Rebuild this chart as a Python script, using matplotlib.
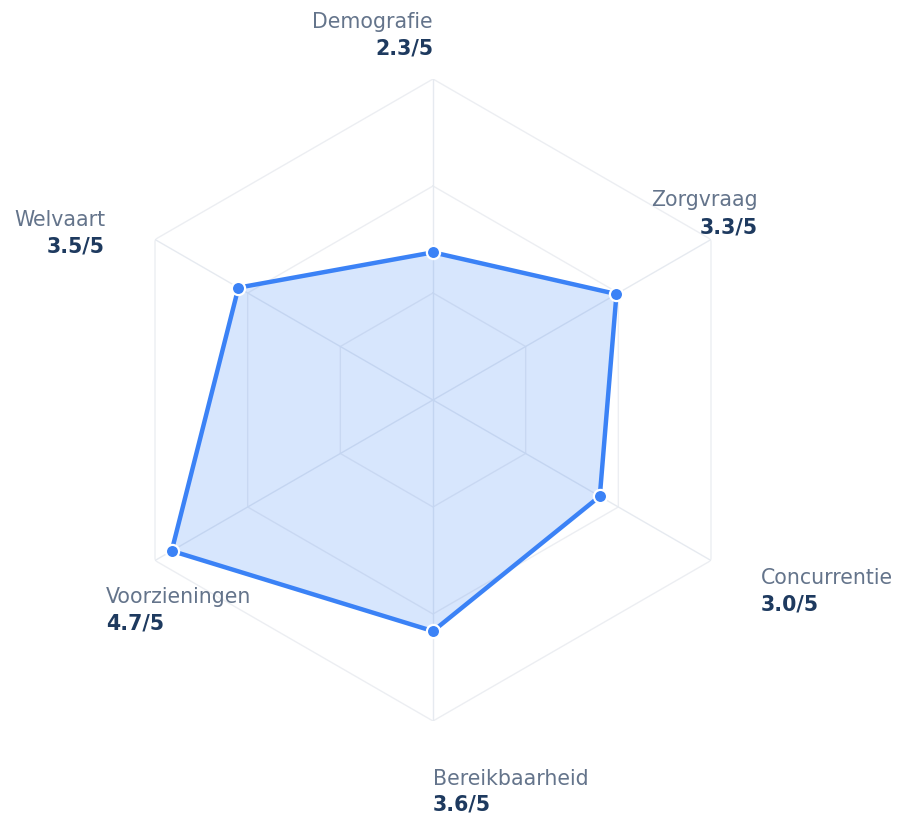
import numpy as np
import matplotlib
matplotlib.use("Agg")
import matplotlib.pyplot as plt

categories = ["Demografie", "Zorgvraag", "Concurrentie", "Bereikbaarheid", "Voorzieningen", "Welvaart"]
scores = [2.3, 3.3, 3.0, 3.6, 4.7, 3.5]
max_score = 5
grid_levels = [5 / 3, 10 / 3, 5]

# label layout (pixel offsets from the outer vertex): dx, cat baseline dy, value baseline dy, ha
label_layout = [
    (0, 51, 25, "right"),
    (47, 33, 6, "right"),
    (50, -23, -50, "left"),
    (0, -64, -90, "left"),
    (-49, -42, -69, "left"),
    (-50, 13, -13, "right"),
]

W, H, DPI = 897, 814, 100
fig = plt.figure(figsize=(W / DPI, H / DPI), dpi=DPI)
cx, cy, R = 433, 400, 321
ax = fig.add_axes([(cx - R) / W, (H - cy - R) / H, 2 * R / W, 2 * R / H], projection="polar")
ax.set_theta_offset(np.pi / 2)
ax.set_theta_direction(-1)
ax.set_ylim(0, max_score)
ax.grid(False)
ax.set_xticks([])
ax.set_yticks([])
ax.spines["polar"].set_visible(False)
ax.patch.set_alpha(0)

n = len(categories)
theta = np.arange(n) * 2 * np.pi / n
theta_c = np.append(theta, theta[0])

# hexagon grid
for lvl in grid_levels:
    ax.plot(theta_c, [lvl] * (n + 1), color="#eceef2", lw=1.0, zorder=1)
for t in theta:
    ax.plot([t, t], [0, max_score], color="#e6eaf0", lw=1.0, zorder=1)

vals = np.append(scores, scores[0])
ax.fill(theta_c, vals, color="#3b82f6", alpha=0.2, lw=0, zorder=2)
ax.plot(theta_c, vals, color="#3b82f6", lw=3.2, zorder=3, solid_joinstyle="miter")
ax.plot(theta, scores, "o", color="#3b82f6", markersize=9.5, markeredgecolor="white",
        markeredgewidth=1.6, zorder=4)

for t, cat, s, (dx, dy1, dy2, ha) in zip(theta, categories, scores, label_layout):
    ax.annotate(cat, xy=(t, max_score), xytext=(dx, dy1), textcoords="offset pixels",
                ha=ha, va="baseline", fontsize=14.8, color="#64748b", annotation_clip=False)
    ax.annotate(f"{s:.1f}/{max_score}", xy=(t, max_score), xytext=(dx, dy2), textcoords="offset pixels",
                ha=ha, va="baseline", fontsize=14.8, fontweight="bold", color="#1e3a5f",
                annotation_clip=False)

fig.savefig("out.png", dpi=DPI, facecolor="white")
